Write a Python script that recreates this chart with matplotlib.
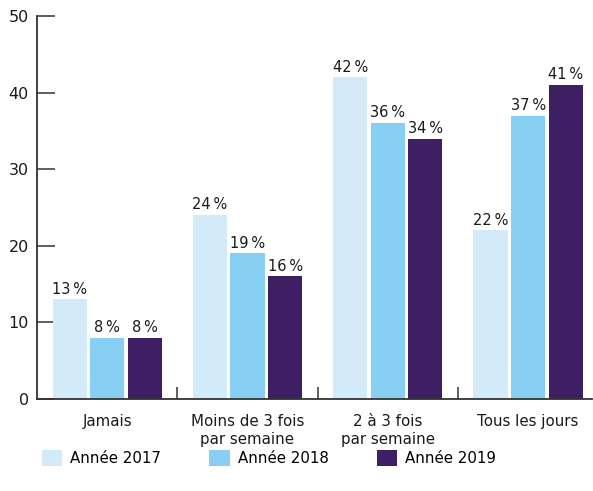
import numpy as np
import matplotlib.pyplot as plt
from matplotlib.patches import Patch

# Data
categories = ['Jamais', 'Moins de 3 fois\npar semaine', '2 à 3 fois\npar semaine', 'Tous les jours']
series_names = ['Année 2017', 'Année 2018', 'Année 2019']
v2017 = [13, 24, 42, 22]
v2018 = [8, 19, 36, 37]
v2019 = [8, 16, 34, 41]
colors = ['#d3eaf8', '#87cff3', '#3e1f63']

plt.rcParams['font.family'] = ['DejaVu Sans']

fig = plt.figure(figsize=(5.93, 4.91), dpi=100)
ax = fig.add_axes([37 / 593, 1 - 399 / 491, 555 / 593, 383 / 491])

x = np.arange(len(categories))
width = 0.243
step = 0.268
for i, (vals, c) in enumerate(zip([v2017, v2018, v2019], colors)):
    pos = x + (i - 1) * step
    ax.bar(pos, vals, width=width, color=c, zorder=2)
    for xb, v in zip(pos, vals):
        ax.annotate(f'{v}\u2009%', (xb, v), xytext=(0, 2), textcoords='offset points',
                    ha='center', va='bottom', fontsize=10.5, color='#1a1a1a')

ax.set_xlim(-0.5, 3.455)
ax.set_ylim(0, 50)
ax.set_yticks([0, 10, 20, 30, 40, 50])
ax.tick_params(axis='y', direction='in', length=13, width=1.2, color='#444444',
               labelsize=11.5, pad=6, labelcolor='#1a1a1a')

ax.set_xticks(x)
ax.set_xticklabels(categories, fontsize=10.8, color='#1a1a1a', linespacing=1.25)
ax.tick_params(axis='x', which='major', length=0, pad=11)
ax.set_xticks([0.5, 1.5, 2.5], minor=True)
ax.tick_params(axis='x', which='minor', direction='in', length=9, width=1.2, color='#444444')

for s in ['top', 'right']:
    ax.spines[s].set_visible(False)
for s in ['left', 'bottom']:
    ax.spines[s].set_color('#333333')
    ax.spines[s].set_linewidth(1.3)

handles = [Patch(facecolor=c, edgecolor='none') for c in colors]
fig.legend(handles, series_names, loc='center left', bbox_to_anchor=(36 / 593, 1 - 458 / 491),
           ncol=3, frameon=False, fontsize=10.8, handlelength=1.35, handleheight=1.35,
           columnspacing=3.2, handletextpad=0.55, borderaxespad=0)

fig.savefig('out.png', dpi=100)
